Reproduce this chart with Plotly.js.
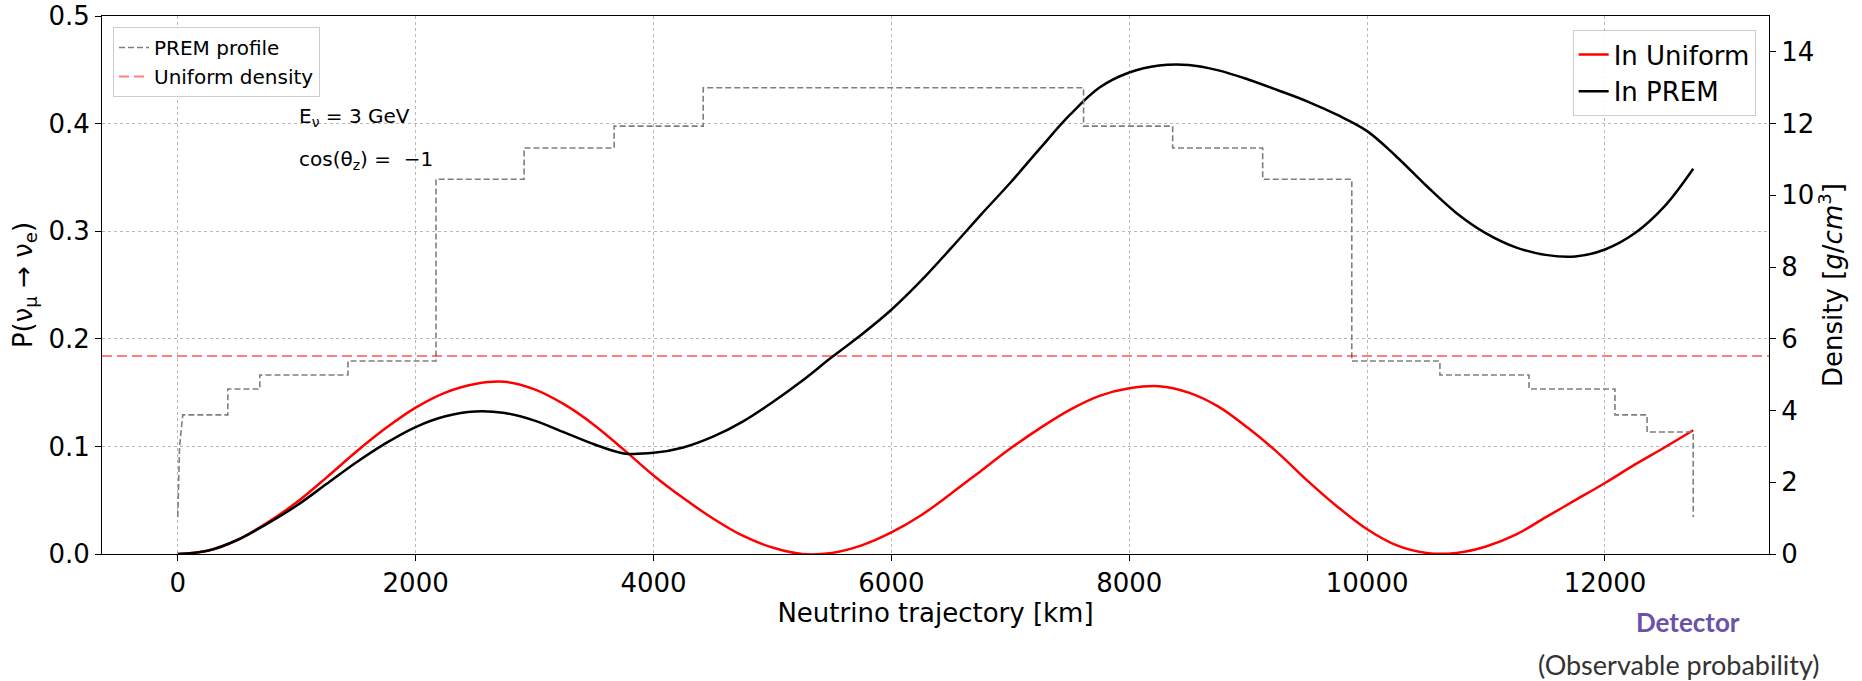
<!DOCTYPE html>
<html>
<head>
<meta charset="utf-8">
<script src="https://cdn.plot.ly/plotly-3.0.1.min.js"></script>
<style>
  html, body { margin: 0; padding: 0; background: #ffffff; }
  #chart { width: 1862px; height: 681px; }
</style>
</head>
<body>
<div id="chart"></div>
<script>
// ---------------- data ----------------
const trajectoryKm = [0,250,500,750,1000,1250,1500,1750,2000,2250,2500,2750,3000,3250,3500,3750,
  4000,4250,4500,4750,5000,5250,5500,5750,6000,6250,6500,6750,7000,7250,7500,7750,
  8000,8250,8500,8750,9000,9250,9500,9750,10000,10250,10500,10750,11000,11250,11500,11750,
  12000,12250,12500,12742];

const probUniform = [0,0.003,0.013,0.029,0.048,0.071,0.095,0.117,0.136,0.150,0.158,0.160,0.153,0.139,0.120,0.097,
  0.073,0.052,0.033,0.017,0.006,0.000,0.001,0.008,0.020,0.036,0.056,0.077,0.098,0.117,0.134,0.147,
  0.154,0.156,0.150,0.137,0.117,0.094,0.068,0.044,0.023,0.008,0.001,0.001,0.007,0.018,0.034,0.050,
  0.066,0.083,0.099,0.115];

const probPREM = [0,0.003,0.013,0.028,0.045,0.065,0.085,0.103,0.118,0.128,0.1325,0.131,0.124,0.113,0.102,0.0935,
  0.094,0.099,0.109,0.123,0.141,0.161,0.183,0.204,0.227,0.254,0.284,0.315,0.345,0.377,0.408,0.4335,
  0.4475,0.454,0.4545,0.4495,0.441,0.431,0.4205,0.408,0.393,0.369,0.342,0.317,0.298,0.285,0.278,0.2765,
  0.283,0.298,0.323,0.358];

// PREM step profile: layer boundaries along the path [km] and density of each layer [g/cm^3]
const premSurfaceRho = 1.03;
const premRampKm = [0, 15];
const premRampRho = [1.03, 3.0];
const premEdgesKm = [42, 421, 690, 1431, 2171, 2912, 3669, 4418, 7616, 8365, 9122, 9871, 10612, 11361, 12084, 12354, 12742];
const premLayerRho = [3.88, 4.6, 4.99, 5.38, 10.45, 11.32, 11.93, 13.0, 11.93, 11.32, 10.45, 5.38, 4.99, 4.6, 3.88, 3.4];

const uniformRho = 5.52;
const xAxisRange = [-637, 13379];

const xTicks = [0, 2000, 4000, 6000, 8000, 10000, 12000];
const xTickText = ["0", "2000", "4000", "6000", "8000", "10000", "12000"];
const yTicks = [0, 0.1, 0.2, 0.3, 0.4, 0.5];
const yTickText = ["0.0", "0.1", "0.2", "0.3", "0.4", "0.5"];
const y2Ticks = [0, 2, 4, 6, 8, 10, 12, 14];
const y2TickText = ["0", "2", "4", "6", "8", "10", "12", "14"];

// --------------- build step path from the PREM arrays -----------------
const premX = premRampKm.slice();
const premY = premRampRho.slice();
for (let i = 0; i < premLayerRho.length; i++) {
  premX.push(premEdgesKm[i]);  premY.push(premLayerRho[i]);
  premX.push(premEdgesKm[i + 1]); premY.push(premLayerRho[i]);
}
premX.push(premEdgesKm[premEdgesKm.length - 1]); premY.push(premSurfaceRho);

const FONT = "DejaVu Sans, Verdana, sans-serif";
const RFONT = "Lato, Open Sans, sans-serif";

const traces = [
  {
    x: premX, y: premY, yaxis: "y2", type: "scatter", mode: "lines",
    name: "PREM profile", legend: "legend",
    line: { color: "#7f7f7f", width: 1.6, dash: "6px,3px" }, hoverinfo: "skip"
  },
  {
    x: xAxisRange, y: [uniformRho, uniformRho], yaxis: "y2", type: "scatter", mode: "lines",
    name: "Uniform density", legend: "legend",
    line: { color: "rgba(255,0,0,0.5)", width: 2, dash: "10px,5px" }, hoverinfo: "skip"
  },
  {
    x: trajectoryKm, y: probUniform, type: "scatter", mode: "lines",
    name: "In Uniform", legend: "legend2",
    line: { color: "#ff0000", width: 2.5, shape: "spline", smoothing: 1 }
  },
  {
    x: trajectoryKm, y: probPREM, type: "scatter", mode: "lines",
    name: "In PREM", legend: "legend2",
    line: { color: "#000000", width: 2.5, shape: "spline", smoothing: 1 }
  }
];

const axisCommon = {
  showline: true, linecolor: "#000000", linewidth: 1,
  ticks: "outside", ticklen: 6, tickwidth: 1, tickcolor: "#000000",
  zeroline: false, tickfont: { family: FONT, size: 26, color: "#000000" }
};

const layout = {
  width: 1862, height: 681,
  margin: { l: 102, r: 93, t: 16, b: 127, pad: 0 },
  paper_bgcolor: "#ffffff", plot_bgcolor: "#ffffff",
  font: { family: FONT, color: "#000000" },
  showlegend: true,
  xaxis: Object.assign({}, axisCommon, {
    range: xAxisRange, tickmode: "array", tickvals: xTicks, ticktext: xTickText,
    mirror: true, showgrid: true, gridcolor: "#b8b8b8", gridwidth: 1, griddash: "dot",
    title: { text: "Neutrino trajectory [km]", font: { family: FONT, size: 26 }, standoff: 6 }
  }),
  yaxis: Object.assign({}, axisCommon, {
    range: [0, 0.5], tickmode: "array", tickvals: yTicks, ticktext: yTickText,
    mirror: true, showgrid: true, gridcolor: "#b8b8b8", gridwidth: 1, griddash: "dot",
    title: { text: "P(ν<sub>μ</sub> → ν<sub>e</sub>)", font: { family: FONT, size: 26 }, standoff: 8 }
  }),
  yaxis2: Object.assign({}, axisCommon, {
    overlaying: "y", side: "right", range: [0, 15], tickmode: "array", tickvals: y2Ticks, ticktext: y2TickText,
    showgrid: false,
    title: { text: "Density [<i>g</i>/<i>cm</i><sup>3</sup>]", font: { family: FONT, size: 26 }, standoff: 10 }
  }),
  legend: {
    x: 0.0066, y: 0.9796, xanchor: "left", yanchor: "top",
    bgcolor: "rgba(255,255,255,0.85)", bordercolor: "#cccccc", borderwidth: 1,
    font: { family: FONT, size: 20, color: "#000000" }, tracegroupgap: 0
  },
  legend2: {
    x: 0.992, y: 0.974, xanchor: "right", yanchor: "top",
    bgcolor: "rgba(255,255,255,0.85)", bordercolor: "#cccccc", borderwidth: 1,
    font: { family: FONT, size: 26, color: "#000000" }, tracegroupgap: 0
  },
  annotations: [
    { xref: "paper", yref: "paper", x: 0.117, y: 0.812, xanchor: "left", yanchor: "middle",
      text: "E<sub>ν</sub> = 3 GeV", showarrow: false, font: { family: FONT, size: 20, color: "#000000" } },
    { xref: "paper", yref: "paper", x: 0.117, y: 0.732, xanchor: "left", yanchor: "middle",
      text: "cos(θ<sub>z</sub>) =  −1", showarrow: false, font: { family: FONT, size: 20, color: "#000000" } },
    { xref: "paper", yref: "paper", x: 0.9514, y: -0.1264, xanchor: "center", yanchor: "middle",
      text: "<b>Detector</b>", showarrow: false, font: { family: RFONT, size: 26, color: "#6a51a9" } },
    { xref: "paper", yref: "paper", x: 0.946, y: -0.2063, xanchor: "center", yanchor: "middle",
      text: "(Observable probability)", showarrow: false, font: { family: RFONT, size: 27, color: "#333333" } }
  ]
};

Plotly.newPlot("chart", traces, layout, { staticPlot: true, displayModeBar: false });
</script>
</body>
</html>
